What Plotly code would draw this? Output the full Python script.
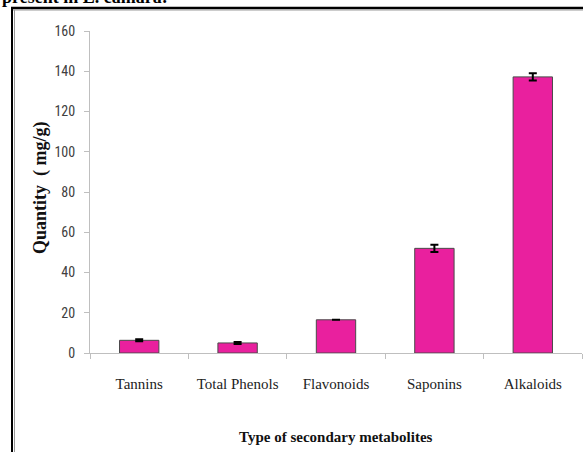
import plotly.graph_objects as go

categories = ["Tannins", "Total Phenols", "Flavonoids", "Saponins", "Alkaloids"]
quantity = [6.3, 5.0, 16.5, 52.0, 137.2]
errors = [0.5, 0.5, float("nan"), 1.8, 1.8]
y_ticks = [0, 20, 40, 60, 80, 100, 120, 140, 160]

W, H = 583, 452
L, R, T, B = 90, 1, 31, 99
pw, ph = W - L - R, H - T - B

def px_x(p):
    return (p - L) / pw

def px_y(p):
    return (H - B - p) / ph

fig = go.Figure()
fig.add_trace(go.Bar(
    x=categories, y=quantity, width=0.4,
    marker=dict(color="#E9209E", line=dict(color="#4a4a4a", width=1)),
    error_y=dict(type="data", array=errors, visible=True, color="black",
                 thickness=2, width=4),
))

tick_font = dict(family="Liberation Sans Narrow, Roboto Condensed, Arial Narrow, DejaVu Sans Condensed, sans-serif",
                 size=14, color="#404040")
fig.update_layout(
    width=W, height=H, margin=dict(l=L, r=R, t=T, b=B, autoexpand=False),
    paper_bgcolor="white", plot_bgcolor="white", showlegend=False,
    bargap=0.6,
    xaxis=dict(showline=True, linecolor="#bfbfbf", linewidth=1, automargin=False,
               ticks="outside", tickson="boundaries", ticklen=5, tickcolor="#bfbfbf",
               tickfont=dict(family="Liberation Serif, Times New Roman, serif", size=15, color="#222"),
               ticklabelstandoff=17, showgrid=False, zeroline=False),
    yaxis=dict(range=[0, 160], tickvals=y_ticks, showline=True, linecolor="#bfbfbf",
               linewidth=1, ticks="outside", ticklen=5, tickcolor="#bfbfbf", automargin=False,
               tickfont=tick_font, showgrid=False, zeroline=False,
               ticklabelstandoff=6),
)

fig.add_annotation(text="<b>Type of secondary metabolites</b>", xref="paper", yref="paper",
                   x=px_x(336), y=px_y(437), xanchor="center", yanchor="middle", showarrow=False,
                   font=dict(family="Liberation Serif, Times New Roman, serif", size=15, color="#111"))
fig.add_annotation(text="<b>Quantity  ( mg/g)</b>", xref="paper", yref="paper",
                   x=px_x(40), y=px_y(188), xanchor="center", yanchor="middle",
                   showarrow=False, textangle=-90,
                   font=dict(family="Liberation Serif, Times New Roman, serif", size=18, color="#111"))
fig.add_annotation(text="<b>present in L. camara:</b>", xref="paper", yref="paper",
                   x=px_x(0), y=px_y(-3), xanchor="left", yanchor="middle", showarrow=False,
                   font=dict(family="Liberation Serif, Times New Roman, serif", size=18, color="#000"))

# page frame
fig.add_shape(type="line", xref="paper", yref="paper", x0=px_x(12), x1=px_x(12),
              y0=px_y(8), y1=px_y(460), line=dict(color="black", width=2))
fig.add_shape(type="line", xref="paper", yref="paper", x0=px_x(14.5), x1=px_x(14.5),
              y0=px_y(10), y1=px_y(460), line=dict(color="#999", width=1))
fig.add_shape(type="line", xref="paper", yref="paper", x0=px_x(11), x1=px_x(590),
              y0=px_y(8), y1=px_y(8), line=dict(color="black", width=2.5))
fig.add_shape(type="line", xref="paper", yref="paper", x0=px_x(13), x1=px_x(590),
              y0=px_y(10), y1=px_y(10), line=dict(color="#999", width=1))

fig.write_html("out.html", config={"displayModeBar": False},
               post_script="document.body.style.margin='0';document.body.style.padding='0';")
